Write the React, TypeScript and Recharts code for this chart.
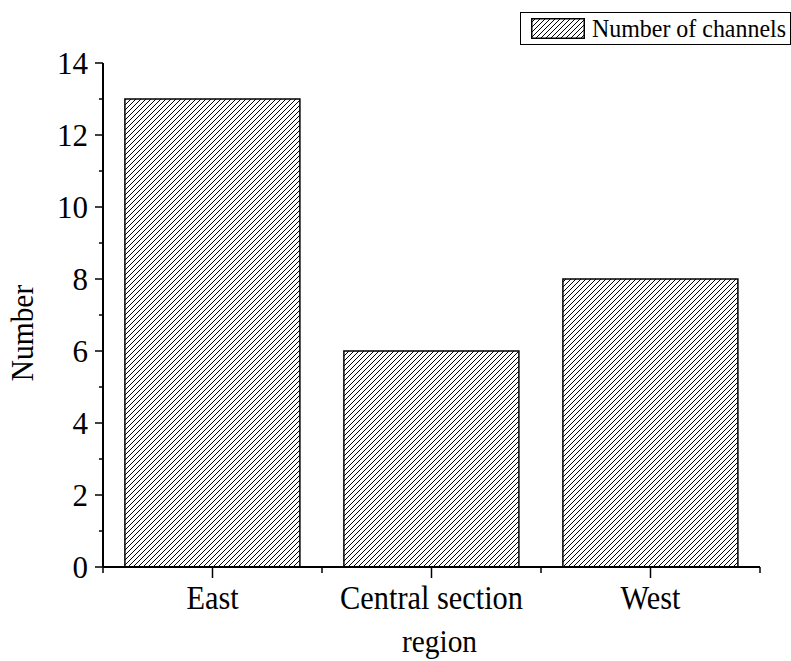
import { BarChart, Bar, XAxis, YAxis, Legend, Label } from "recharts";

const regions = ["East", "Central section", "West"];
const channelCounts = [13, 6, 8];
const yTicks = [0, 1, 2, 3, 4, 5, 6, 7, 8, 9, 10, 11, 12, 13, 14];
const seriesName = "Number of channels";

const data = regions.map((region, i) => ({ region, channels: channelCounts[i] }));

const W = 791;
const H = 661;
const MARGIN = { top: 63, right: 31, bottom: 0, left: 0 };
const Y_AXIS_W = 103;
const X_AXIS_H = 94;
const BAND = (W - MARGIN.left - MARGIN.right - Y_AXIS_W) / regions.length;
const FONT = '"Liberation Serif", "Times New Roman", Times, serif';
// Times-style lettering, set slightly narrow
const SQUEEZE = 0.92;

function HatchPattern({ id }: { id: string }) {
  return (
    <pattern id={id} patternUnits="userSpaceOnUse" width={5} height={5}>
      <path d="M-1,1 L1,-1 M0,5 L5,0 M4,6 L6,4" stroke="#000" strokeWidth={1} />
    </pattern>
  );
}

function NarrowText({ x, y, size, anchor = "middle", rotate = 0, children }: any) {
  return (
    <text
      x={0}
      y={0}
      transform={`translate(${x} ${y}) rotate(${rotate}) scale(${SQUEEZE} 1)`}
      textAnchor={anchor}
      fontSize={size}
      fontFamily={FONT}
      fill="#000"
      stroke="none"
    >
      {children}
    </text>
  );
}

// odd values get a short minor tick and no label
function YTick(props: any) {
  const { x, y, payload } = props;
  const major = payload.value % 2 === 0;
  return (
    <g>
      <line x1={x - (major ? 8 : 4)} x2={x} y1={y} y2={y} stroke="#000" strokeWidth={1.5} />
      {major && (
        <text x={x - 15} y={y} dy="0.35em" textAnchor="end" fontSize={31} fontFamily={FONT} fill="#000">
          {payload.value}
        </text>
      )}
    </g>
  );
}

// long tick under each bar, short ticks on the band edges
function XTick(props: any) {
  const { x, y, payload, index } = props;
  return (
    <g stroke="#000" strokeWidth={1.5}>
      <line x1={x} x2={x} y1={y} y2={y + 11} />
      <line x1={x + BAND / 2} x2={x + BAND / 2} y1={y} y2={y + 6} />
      {index === 0 && <line x1={x - BAND / 2} x2={x - BAND / 2} y1={y} y2={y + 6} />}
      <NarrowText x={x} y={y + 42} size={33}>
        {payload.value}
      </NarrowText>
    </g>
  );
}

function YTitle(props: any) {
  const { viewBox } = props;
  return (
    <NarrowText x={viewBox.x + 33} y={viewBox.y + viewBox.height / 2 + 18} size={32} rotate={-90}>
      Number
    </NarrowText>
  );
}

function XTitle(props: any) {
  const { viewBox } = props;
  return (
    <NarrowText x={viewBox.x + viewBox.width / 2 + 8} y={viewBox.y + viewBox.height - 9} size={32}>
      region
    </NarrowText>
  );
}

function LegendBox(props: any) {
  const item = props.payload && props.payload[0];
  return (
    <div
      style={{
        border: "1px solid #000",
        boxSizing: "border-box",
        height: 33,
        display: "flex",
        alignItems: "center",
        background: "#fff",
        overflow: "hidden",
      }}
    >
      <svg width={54} height={21} style={{ marginLeft: 10, display: "block", flex: "none" }}>
        <defs>
          <HatchPattern id="hatch-key" />
        </defs>
        <rect x={0.75} y={0.75} width={52.5} height={19.5} fill="url(#hatch-key)" stroke="#000" strokeWidth={1.5} />
      </svg>
      <span
        style={{
          marginLeft: 7,
          fontSize: 26,
          fontFamily: FONT,
          color: "#000",
          lineHeight: 1,
          whiteSpace: "nowrap",
          transform: `scaleX(${SQUEEZE})`,
          transformOrigin: "left center",
        }}
      >
        {item ? item.value : seriesName}
      </span>
    </div>
  );
}

export default function App() {
  return (
    <div style={{ position: "absolute", left: 0, top: 0, width: W, height: H, background: "#fff" }}>
      <BarChart width={W} height={H} data={data} margin={MARGIN} barCategoryGap="10%">
        <defs>
          <HatchPattern id="hatch" />
        </defs>
        <XAxis
          dataKey="region"
          height={X_AXIS_H}
          interval={0}
          tickSize={0}
          tickMargin={0}
          tickLine={false}
          axisLine={{ stroke: "#000", strokeWidth: 2 }}
          tick={<XTick />}
        >
          <Label content={<XTitle />} />
        </XAxis>
        <YAxis
          width={Y_AXIS_W}
          domain={[0, 14]}
          ticks={yTicks}
          interval={0}
          tickSize={0}
          tickMargin={0}
          tickLine={false}
          axisLine={{ stroke: "#000", strokeWidth: 2 }}
          tick={<YTick />}
        >
          <Label content={<YTitle />} />
        </YAxis>
        <Legend
          layout="horizontal"
          verticalAlign="middle"
          align="center"
          content={<LegendBox />}
          wrapperStyle={{ top: 12, left: 520, width: 271, height: 33 }}
        />
        <Bar
          dataKey="channels"
          name={seriesName}
          fill="url(#hatch)"
          stroke="#000"
          strokeWidth={1.5}
          isAnimationActive={false}
        />
      </BarChart>
    </div>
  );
}
